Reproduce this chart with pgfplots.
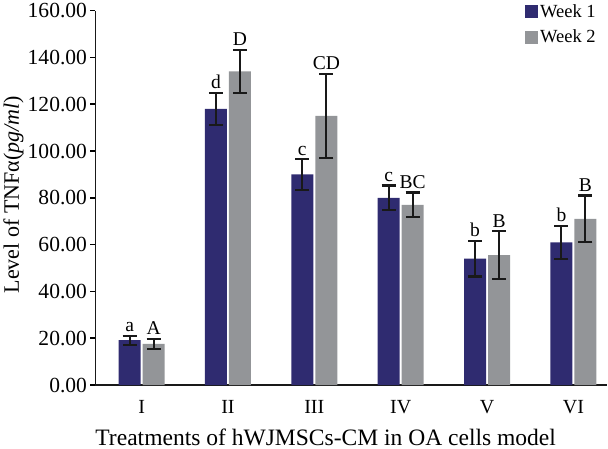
\documentclass[border=0pt]{standalone}
\usepackage{pgfplots}
\pgfplotsset{compat=1.18}
\usepackage{fontspec}
\setmainfont{Liberation Serif}
\definecolor{wkone}{RGB}{47,43,112}
\definecolor{wktwo}{RGB}{147,149,152}
\begin{document}
\begin{tikzpicture}
\begin{axis}[
  scale only axis, width=511pt, height=374pt,
  xmin=-0.534, xmax=5.39, ymin=0, ymax=160,
  axis x line=bottom, axis y line=left,
  axis line style={-, line width=1.8pt, color=black!90},
  ytick={0,20,...,160},
  yticklabel style={font=\fontsize{21.5}{24}\selectfont, /pgf/number format/.cd, fixed, fixed zerofill, precision=2, assume math mode=true},
  tick align=outside, major tick length=5pt,
  ytick style={line width=1.6pt, black},
  xtick={0,...,5}, xticklabels={I,II,III,IV,V,VI},
  xtick style={draw=none},
  xticklabel style={font=\fontsize{20}{24}\selectfont, anchor=base, yshift=-23pt},
  xlabel={Treatments of hWJMSCs-CM in OA cells model},
  xlabel style={font=\fontsize{23.5}{28}\selectfont, at={(axis description cs:0.45,-0.16)}, anchor=base},
  ylabel={Level of TNFα(\textit{pg/ml})},
  ylabel style={font=\fontsize{22}{24}\selectfont, at={(axis description cs:-0.187,0.509)}, anchor=north, rotate=0},
  legend style={at={(axis description cs:0.982,1.022)}, anchor=north east, draw=none, fill=none,
    font=\fontsize{18.5}{20}\selectfont, row sep=7pt, inner sep=0pt},
  legend cell align=left,
  legend image code/.code={\fill[#1] (0pt,-6.5pt) rectangle (13pt,6.5pt);},
  clip=false,
  lbl/.style={forget plot, only marks, mark=none, nodes near coords, point meta=explicit symbolic,
    every node near coord/.append style={anchor=base, yshift=4pt, font=\fontsize{19.5}{22}\selectfont, inner sep=0pt}},
]
\addplot[ybar, bar width=22pt, bar shift=0pt, fill=wkone, draw=none,
  error bars/.cd, y dir=both, y explicit,
  error bar style={line width=2.1pt, black!90},
  error mark options={rotate=90, mark size=7pt, line width=2.1pt, black!90}]
  coordinates {(-0.139,19.2) +- (0,1.9) (0.861,118) +- (0,7) (1.861,90) +- (0,6.5) (2.861,80) +- (0,5.3) (3.861,54) +- (0,7.6) (4.861,61) +- (0,7)};
\addlegendentry{Week 1}
\addplot[ybar, bar width=22pt, bar shift=0pt, fill=wktwo, draw=none,
  error bars/.cd, y dir=both, y explicit,
  error bar style={line width=2.1pt, black!90},
  error mark options={rotate=90, mark size=7pt, line width=2.1pt, black!90}]
  coordinates {(0.139,17.6) +- (0,2.1) (1.139,134) +- (0,9.2) (2.139,115) +- (0,18) (3.139,77) +- (0,5.3) (4.139,55.5) +- (0,10.3) (5.139,71) +- (0,10)};
\addlegendentry{Week 2}
\addplot[lbl] coordinates {(-0.139,21.1)[a] (0.861,125)[d] (1.861,96.5)[c] (2.861,85.3)[c] (3.861,61.6)[b] (4.861,68)[b]};
\addplot[lbl] coordinates {(0.139,19.7)[A] (1.139,143.2)[D] (2.139,133)[CD] (3.139,82.3)[BC] (4.139,65.8)[B] (5.139,81)[B]};
\end{axis}
\end{tikzpicture}
\end{document}
